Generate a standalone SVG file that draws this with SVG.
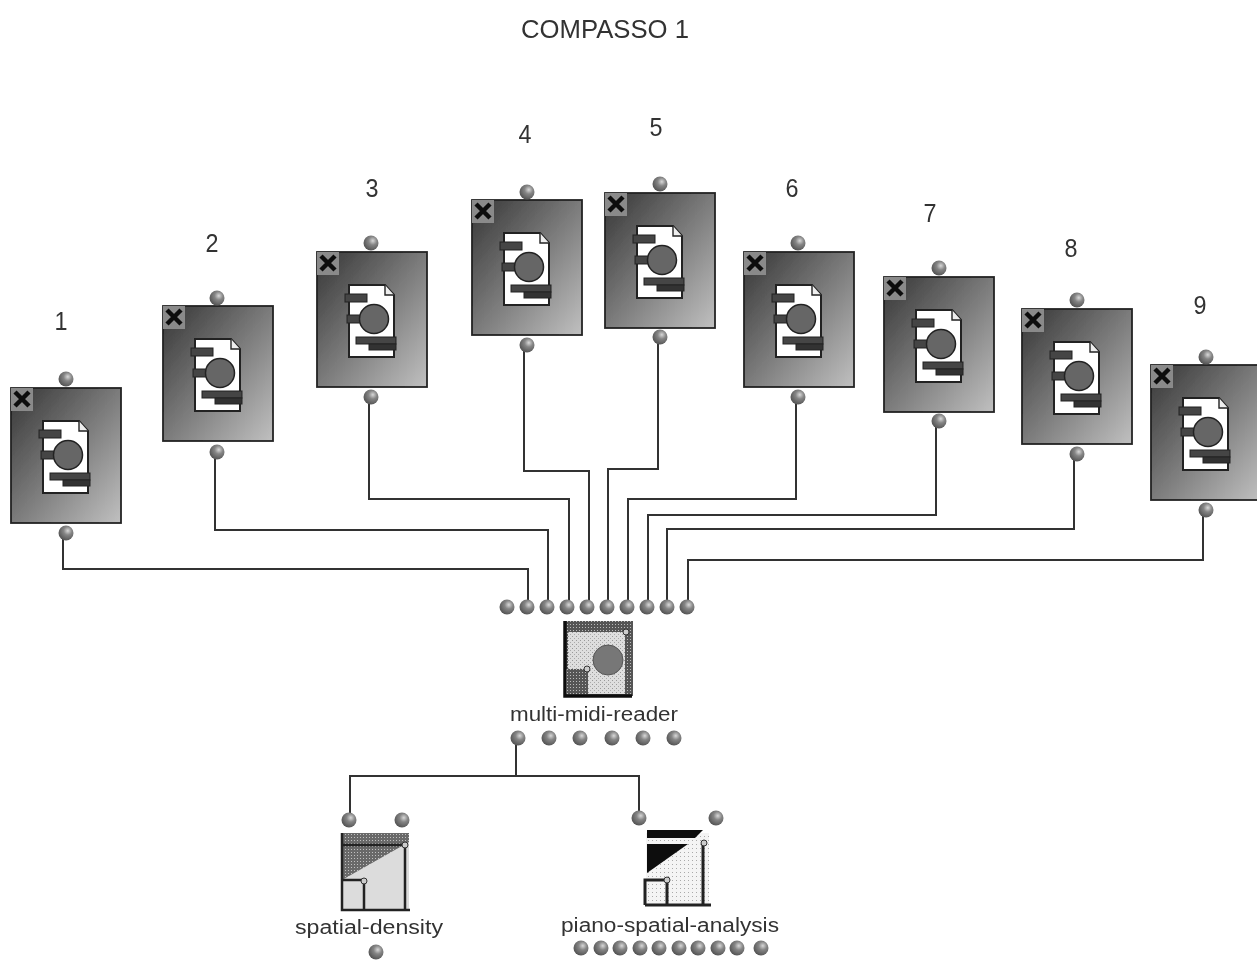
<svg xmlns="http://www.w3.org/2000/svg" width="1257" height="960" viewBox="0 0 1257 960">
<style>
text{font-family:"Liberation Sans",Arial,sans-serif;fill:#333}
.num{font-size:25px;text-anchor:middle}
.lbl{font-size:20px;text-anchor:middle}
.wire{fill:none;stroke:#333;stroke-width:2}
.s{filter:url(#soft)}
</style>
<defs>
<filter id="soft" filterUnits="userSpaceOnUse" x="0" y="0" width="1257" height="960"><feGaussianBlur stdDeviation="0.7"/></filter>
<linearGradient id="box" x1="0" y1="0" x2="1" y2="1"><stop offset="0" stop-color="#363636"/><stop offset="1" stop-color="#c0c0c0"/></linearGradient>
<radialGradient id="ball" cx="0.62" cy="0.35" r="0.7"><stop offset="0" stop-color="#d8d8d8"/><stop offset="0.4" stop-color="#858585"/><stop offset="1" stop-color="#505050"/></radialGradient>
<pattern id="dots" width="4" height="4" patternUnits="userSpaceOnUse"><rect width="4" height="4" fill="#dedede"/><rect width="1" height="1" fill="#999"/><rect x="2" y="2" width="1" height="1" fill="#aaa"/></pattern>
<pattern id="dark" width="3" height="3" patternUnits="userSpaceOnUse"><rect width="3" height="3" fill="#555"/><rect width="1" height="1" fill="#bbb"/></pattern>
<pattern id="light" width="4" height="4" patternUnits="userSpaceOnUse"><rect width="4" height="4" fill="#f4f4f4"/><rect width="1" height="1" fill="#aaa"/></pattern>
<symbol id="port" overflow="visible"><circle r="7.500" fill="url(#ball)"/></symbol>
<symbol id="midi" overflow="visible">
<rect x="0" y="0" width="110" height="135" fill="url(#box)" stroke="#222" stroke-width="1.800"/>
<rect x="0" y="0" width="22" height="23" fill="#8a8a8a"/>
<path d="M4 4L18 18M18 4L4 18" stroke="#111" stroke-width="4.500" fill="none"/>
<path d="M32 33H68L77 43V105H32Z" fill="#fff" stroke="#222" stroke-width="2"/>
<path d="M68 33V43H77" fill="#eee" stroke="#222" stroke-width="1.400"/>
<rect x="28" y="42" width="22" height="8" fill="#444" stroke="#222"/>
<rect x="30" y="63" width="16" height="8" fill="#444" stroke="#222"/>
<circle cx="57" cy="67" r="14.500" fill="#666" stroke="#222" stroke-width="1.500"/>
<rect x="39" y="85" width="40" height="7" fill="#444" stroke="#222"/>
<rect x="52" y="92" width="27" height="6" fill="#333" stroke="#222"/>
</symbol>
</defs>

<text x="605" y="38" class="num s" textLength="168" lengthAdjust="spacingAndGlyphs">COMPASSO 1</text>

<g id="connectors" class="s">
<path class="wire" d="M63 533V569H528V607"/>
<path class="wire" d="M215 452V530H548V607"/>
<path class="wire" d="M369 397V499H569V607"/>
<path class="wire" d="M524 345V471H589V607"/>
<path class="wire" d="M658 337V469H608V607"/>
<path class="wire" d="M796 397V499H628V607"/>
<path class="wire" d="M936 421V515H648V607"/>
<path class="wire" d="M1074 454V529H667V607"/>
<path class="wire" d="M1203 510V560H688V607"/>
<path class="wire" d="M516 738V776M350 820V776H639V818"/>
</g>

<g id="node-1" class="s"><use href="#midi" x="11" y="388"/><use href="#port" x="66" y="379"/><use href="#port" x="66" y="533"/><text x="61" y="330" class="num" textLength="13" lengthAdjust="spacingAndGlyphs">1</text></g>
<g id="node-2" class="s"><use href="#midi" x="163" y="306"/><use href="#port" x="217" y="298"/><use href="#port" x="217" y="452"/><text x="212" y="252" class="num" textLength="13" lengthAdjust="spacingAndGlyphs">2</text></g>
<g id="node-3" class="s"><use href="#midi" x="317" y="252"/><use href="#port" x="371" y="243"/><use href="#port" x="371" y="397"/><text x="372" y="197" class="num" textLength="13" lengthAdjust="spacingAndGlyphs">3</text></g>
<g id="node-4" class="s"><use href="#midi" x="472" y="200"/><use href="#port" x="527" y="192"/><use href="#port" x="527" y="345"/><text x="525" y="143" class="num" textLength="13" lengthAdjust="spacingAndGlyphs">4</text></g>
<g id="node-5" class="s"><use href="#midi" x="605" y="193"/><use href="#port" x="660" y="184"/><use href="#port" x="660" y="337"/><text x="656" y="136" class="num" textLength="13" lengthAdjust="spacingAndGlyphs">5</text></g>
<g id="node-6" class="s"><use href="#midi" x="744" y="252"/><use href="#port" x="798" y="243"/><use href="#port" x="798" y="397"/><text x="792" y="197" class="num" textLength="13" lengthAdjust="spacingAndGlyphs">6</text></g>
<g id="node-7" class="s"><use href="#midi" x="884" y="277"/><use href="#port" x="939" y="268"/><use href="#port" x="939" y="421"/><text x="930" y="222" class="num" textLength="13" lengthAdjust="spacingAndGlyphs">7</text></g>
<g id="node-8" class="s"><use href="#midi" x="1022" y="309"/><use href="#port" x="1077" y="300"/><use href="#port" x="1077" y="454"/><text x="1071" y="257" class="num" textLength="13" lengthAdjust="spacingAndGlyphs">8</text></g>
<g id="node-9" class="s"><use href="#midi" x="1151" y="365"/><use href="#port" x="1206" y="357"/><use href="#port" x="1206" y="510"/><text x="1200" y="314" class="num" textLength="13" lengthAdjust="spacingAndGlyphs">9</text></g>

<g id="multi-midi-reader" class="s">
<use href="#port" x="507" y="607"/><use href="#port" x="527" y="607"/><use href="#port" x="547" y="607"/><use href="#port" x="567" y="607"/><use href="#port" x="587" y="607"/><use href="#port" x="607" y="607"/><use href="#port" x="627" y="607"/><use href="#port" x="647" y="607"/><use href="#port" x="667" y="607"/><use href="#port" x="687" y="607"/>
<rect x="564" y="621" width="69" height="75" fill="url(#dark)"/>
<rect x="568" y="632" width="57" height="62" fill="url(#dots)"/>
<path d="M565 621V696H632" fill="none" stroke="#111" stroke-width="3.500"/>
<rect x="566" y="669" width="22" height="25" fill="url(#dark)"/>
<circle cx="608" cy="660" r="15" fill="#777" stroke="#555"/>
<circle cx="587" cy="669" r="3" fill="#ccc" stroke="#333"/>
<circle cx="626" cy="632" r="3" fill="#ccc" stroke="#333"/>
<text x="594" y="721" class="lbl" textLength="168" lengthAdjust="spacingAndGlyphs">multi-midi-reader</text>
<use href="#port" x="518" y="738"/><use href="#port" x="549" y="738"/><use href="#port" x="580" y="738"/><use href="#port" x="612" y="738"/><use href="#port" x="643" y="738"/><use href="#port" x="674" y="738"/>
</g>

<g id="spatial-density" class="s">
<use href="#port" x="349" y="820"/><use href="#port" x="402" y="820"/>
<rect x="342" y="833" width="67" height="77" fill="#dcdcdc"/>
<path d="M342 833H409V842L342 880Z" fill="url(#dark)" opacity="0.85"/>
<path d="M342 833V910H410M342 845H405V910M342 880H364V910" fill="none" stroke="#222" stroke-width="2.500"/>
<circle cx="405" cy="845" r="3" fill="#ccc" stroke="#333"/>
<circle cx="364" cy="881" r="3" fill="#ccc" stroke="#333"/>
<text x="369" y="934" class="lbl" textLength="148" lengthAdjust="spacingAndGlyphs">spatial-density</text>
<use href="#port" x="376" y="952"/>
</g>

<g id="piano-spatial-analysis" class="s">
<use href="#port" x="639" y="818"/><use href="#port" x="716" y="818"/>
<rect x="646" y="833" width="63" height="73" fill="url(#light)"/>
<path d="M647 830H703L695 838H647ZM647 844H688L647 873Z" fill="#111"/>
<path d="M703 843V905M645 905H711M645 905V880H667V905" fill="none" stroke="#222" stroke-width="3"/>
<circle cx="704" cy="843" r="3" fill="#ccc" stroke="#333"/>
<circle cx="667" cy="880" r="3" fill="#ccc" stroke="#333"/>
<text x="670" y="932" class="lbl" textLength="218" lengthAdjust="spacingAndGlyphs">piano-spatial-analysis</text>
<use href="#port" x="581" y="948"/><use href="#port" x="601" y="948"/><use href="#port" x="620" y="948"/><use href="#port" x="640" y="948"/><use href="#port" x="659" y="948"/><use href="#port" x="679" y="948"/><use href="#port" x="698" y="948"/><use href="#port" x="718" y="948"/><use href="#port" x="737" y="948"/><use href="#port" x="761" y="948"/>
</g>
</svg>
